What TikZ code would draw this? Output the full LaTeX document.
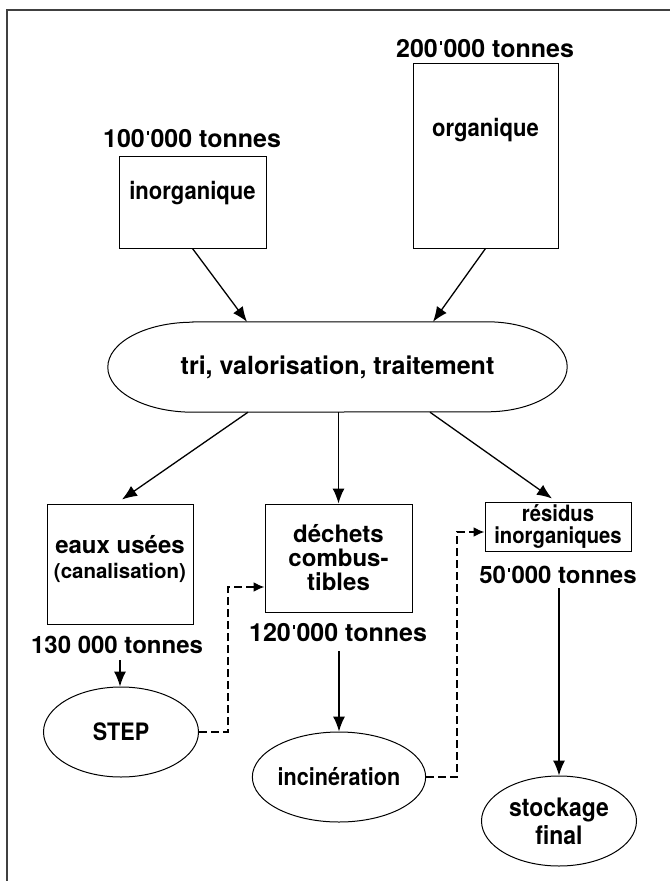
\documentclass[tikz,border=0pt]{standalone}
\usepackage{fontspec}
\setmainfont{TeX Gyre Heros}
\newfontfamily\condf[FakeStretch=0.9]{TeX Gyre Heros}
\usetikzlibrary{arrows.meta,shapes.geometric,calc}
\newcommand\tsep{\hspace{0.08em}\rule[0.5em]{0.07em}{0.16em}\hspace{0.08em}}
\newcommand\fs[2]{\bfseries\fontsize{#1}{#2}\selectfont}
\newcommand\cfs[2]{\condf\bfseries\fontsize{#1}{#2}\selectfont}
\begin{document}
\begin{tikzpicture}[x=1pt,y=-1pt,
  font=\fs{24}{24},
  num/.style={inner sep=1pt,font=\fs{25}{25}},
  txt/.style={inner sep=1pt},
  box/.style={draw,line width=1pt,inner sep=0pt},
  oval/.style={ellipse,draw,line width=1pt,minimum width=155pt,minimum height=90pt,inner sep=0pt},
  arr/.style={line width=1.3pt,-{Latex[length=15pt,width=12pt]}},
  darr/.style={line width=1.9pt,dash pattern=on 8pt off 4pt,-{Latex[length=11pt,width=10pt]}}]
\useasboundingbox (0,0) rectangle (670,881);
% frame
\draw[line width=1.2pt,black!75] (7,881) -- (7,10) -- (670,10);

% top boxes
\node[num] (t100) at (192,139) {100\tsep000 tonnes};
\node[box,minimum width=147pt,minimum height=92pt] (inorg) at (192.5,202) {};
\node[txt,font=\cfs{24.5}{24}] (inorgt) at (192.5,193) {inorganique};

\node[num] (t200) at (485,49) {200\tsep000 tonnes};
\node[box,minimum width=145pt,minimum height=185pt] (org) at (485.5,155.5) {};
\node[txt,font=\cfs{24.5}{24}] (orgt) at (485.5,130) {organique};

% central stadium
\node[minimum width=459pt,minimum height=90pt,inner sep=0pt,font=\fs{25}{24}] (tri) at (337.5,367) {tri, valorisation, traitement};
\draw[line width=1pt] ($(tri.north west)+(85,0)$) -- ($(tri.north east)+(-80,0)$)
  arc[start angle=90,end angle=-90,x radius=80pt,y radius=45pt]
  -- ($(tri.south west)+(85,0)$)
  arc[start angle=270,end angle=90,x radius=85pt,y radius=45pt] -- cycle;

\draw[arr] (inorg.south) -- ($(tri.north)+(-90.5,0)$);
\draw[arr] (org.south) -- ($(tri.north)+(95.5,0)$);

% second row
\node[box,minimum width=146pt,minimum height=120pt] (eaux) at (120,564) {};
\node[txt] (eauxt) at (120,545) {eaux usées};
\node[txt,font=\fs{20.5}{22}] (canal) at (120,573) {(canalisation)};
\node[txt,font=\fs{24}{24}] (t130) at (117,645) {130 000 tonnes};

\node[box,minimum width=147pt,minimum height=108pt,align=center] (dech) at (338.5,558) {déchets\\combus-\\tibles};
\node[num] (t120) at (338,633) {120\tsep000 tonnes};

\node[box,minimum width=146pt,minimum height=49pt,align=center,font=\cfs{22.5}{21.5}] (resid) at (558,526.5) {résidus\\inorganiques};
\node[txt,font=\fs{24}{24}] (t50) at (558,575) {50\tsep000 tonnes};

\draw[arr] ($(tri.south)+(-89.5,0)$) -- ($(eaux.north)+(2,-4)$);
\draw[arr] (dech.north |- tri.south) -- (dech.north);
\draw[arr] ($(tri.south)+(92.5,0)$) -- ($(resid.north)+(-6,-3)$);

% bottom ovals
\node[oval,font=\cfs{24}{24}] (step) at (121,732) {STEP};
\node[oval,font=\cfs{24}{24}] (incin) at (339,777) {incinération};
\node[oval,align=center,font=\cfs{25.5}{28}] (stock) at (559,821) {stockage\\final};

\draw[arr] (120,660) -- (step.north -| 120,0);
\draw[arr] (incin.north |- 0,651) -- (incin.north);
\draw[arr] (stock.north |- 0,588) -- (stock.north);

\draw[darr] (step.east) -- ++(29,0) |- ($(dech.west)+(0,29)$);
\draw[darr] (incin.east) -- ++(31,0) |- ($(resid.west)+(0,5.5)$);
\end{tikzpicture}
\end{document}
